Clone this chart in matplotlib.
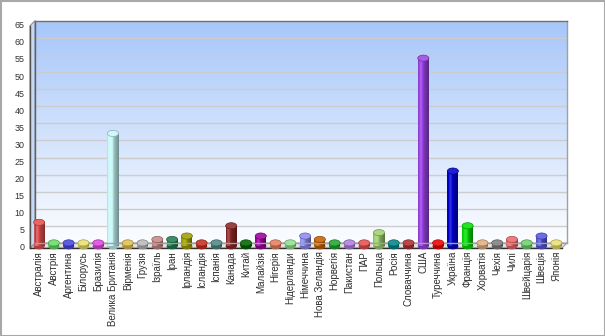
import numpy as np
import matplotlib
matplotlib.use('Agg')
import matplotlib.pyplot as plt
from matplotlib.patches import Ellipse, Polygon
from matplotlib.transforms import offset_copy, blended_transform_factory, IdentityTransform
from matplotlib.colors import to_rgb

plt.rcParams['font.family'] = ['Liberation Sans', 'DejaVu Sans']

# data
countries = ['Австралія', 'Австрія', 'Аргентина', 'Білорусь', 'Бразилія', 'Велика Британія',
             'Вірменія', 'Грузія', 'Ізраїль', 'Іран', 'Ірландія', 'Ісландія', 'Іспанія',
             'Канада', 'Китай', 'Малайзія', 'Нігерія', 'Нідерланди', 'Німеччина',
             'Нова Зеландія', 'Норвегія', 'Пакистан', 'ПАР', 'Польща', 'Росія',
             'Словаччина', 'США', 'Туреччина', 'Україна', 'Франція', 'Хорватія', 'Чехія',
             'Чилі', 'Швейцарія', 'Швеція', 'Японія']
values = [7, 1, 1, 1, 1, 33, 1, 1, 2, 2, 3, 1, 1, 6, 1, 3, 1, 1, 3, 2, 1, 1, 1, 4, 1, 1,
          55, 1, 22, 6, 1, 1, 2, 1, 3, 1]
colors = ['#e85050', '#66dd66', '#4848e0', '#e8e070', '#e048e0', '#c8f8f8',
          '#e0c050', '#b8b8b8', '#c88888', '#208050', '#a0a000', '#c83020', '#508888',
          '#902828', '#006600', '#a000a0', '#e88060', '#90e090', '#8c8cf0',
          '#c86000', '#20a830', '#b080e0', '#e85050', '#a0d070', '#008888',
          '#b03030', '#9c44e8', '#f00000', '#0000d0', '#00e000', '#e0b080', '#808080',
          '#f06868', '#70d070', '#5858e0', '#e8e070']
yticks = list(range(0, 70, 5))


def shade(c, f):
    c = np.array(to_rgb(c))
    if f >= 1:
        return tuple(c + (1 - c) * (f - 1))
    return tuple(c * f)


W, H = 605, 336
fig = plt.figure(figsize=(W / 100, H / 100), dpi=100)
left, right, top, bottom = 35, 567, 20.7, 243
ax = fig.add_axes([left / W, (H - bottom) / H, (right - left) / W, (bottom - top) / H])
n = len(countries)
ax.set_xlim(-0.5, n - 0.5)
ax.set_ylim(0, 65)

# back wall gradient
tc = np.array([166, 198, 250]) / 255
bc = np.array([252, 253, 255]) / 255
g = np.linspace(0, 1, 256)[:, None, None]
img = tc + (bc - tc) * g
img = np.repeat(img, 2, axis=1)
ax.imshow(img, extent=(-0.5, n - 0.5, 0, 65), aspect='auto', origin='upper', zorder=-2)

ax.set_yticks(yticks)
ax.set_xticks([])
ax.set_axisbelow(True)
ax.grid(axis='y', color='#cccccc', lw=1)
ax.tick_params(length=0, labelleft=False, labelbottom=False)
ax.spines['top'].set_color('#707070')
ax.spines['left'].set_color('#606060')
ax.spines['right'].set_color('#a0a0a0')
ax.spines['bottom'].set_color('#a0a0a0')
for s in ax.spines.values():
    s.set_linewidth(1)

# 3d floor and side wall
d = np.array([-5, -5])
p0 = ax.transAxes.transform((0, 0))
p1 = ax.transAxes.transform((1, 0))
pt = ax.transAxes.transform((0, 1))
floor = Polygon([p0, p1, p1 + d, p0 + d], closed=True, transform=IdentityTransform(),
                facecolor='#e4e4e4', edgecolor='#a0a0a0', lw=0.8, clip_on=False, zorder=0.3)
ax.add_patch(floor)
wall = Polygon([p0, pt, pt + d, p0 + d], closed=True, transform=IdentityTransform(),
               facecolor='#c4d8f8', edgecolor='#909090', lw=0.8, clip_on=False, zorder=0.3)
ax.add_patch(wall)
ax.plot([(p0 + d)[0], (pt + d)[0]], [(p0 + d)[1], (pt + d)[1]], color='#505050', lw=1,
        transform=IdentityTransform(), clip_on=False, zorder=0.4)
ax.plot([(p0 + d)[0], (p1 + d)[0]], [(p0 + d)[1], (p1 + d)[1]], color='#303030', lw=1,
        transform=IdentityTransform(), clip_on=False, zorder=0.4)

# cylinders
bar_tr = offset_copy(ax.transData, fig=fig, x=-3.3, y=-3.3, units='dots')
xs = np.arange(n)
w = 0.75
cap_h = 1.8
ns = 12
tt = (np.arange(ns) + 0.5) / ns
prof = 0.85 + 0.35 * np.exp(-((tt - 0.3) / 0.2) ** 2) - 0.3 * tt ** 2

for i in range(n):
    ax.add_patch(Ellipse((xs[i], 0), w, cap_h, facecolor=shade(colors[i], 0.75), lw=0,
                         transform=bar_tr, clip_on=False, zorder=1))
for k in range(ns):
    ax.bar(xs - w / 2 + (k + 0.5) * w / ns, values, width=w / ns * 1.08,
           color=[shade(c, prof[k]) for c in colors], lw=0,
           transform=bar_tr, clip_on=False, zorder=2)
for i in range(n):
    ax.add_patch(Ellipse((xs[i], values[i]), w, cap_h, facecolor=shade(colors[i], 1.12),
                         edgecolor=shade(colors[i], 0.7), lw=0.5,
                         transform=bar_tr, clip_on=False, zorder=3))

# labels
xl_tr = offset_copy(blended_transform_factory(ax.transData, ax.transAxes), fig=fig,
                    x=-3.3, y=-8, units='dots')
for i, name in enumerate(countries):
    ax.text(xs[i], 0, name, transform=xl_tr, rotation=90, ha='center', va='top',
            fontsize=7, color='#303030', clip_on=False)
yl_tr = offset_copy(blended_transform_factory(ax.transAxes, ax.transData), fig=fig,
                    x=-10.5, y=-5, units='dots')
for v in yticks:
    ax.text(0, v, str(v), transform=yl_tr, ha='right', va='center',
            fontsize=6.4, color='#303030', clip_on=False)

# outer border
fig.add_artist(plt.Rectangle((0.5, 0.5), W - 1, H - 1, transform=IdentityTransform(),
                             fill=False, edgecolor='#a8a8a8', lw=1.5))

fig.savefig('out.png', dpi=100)
